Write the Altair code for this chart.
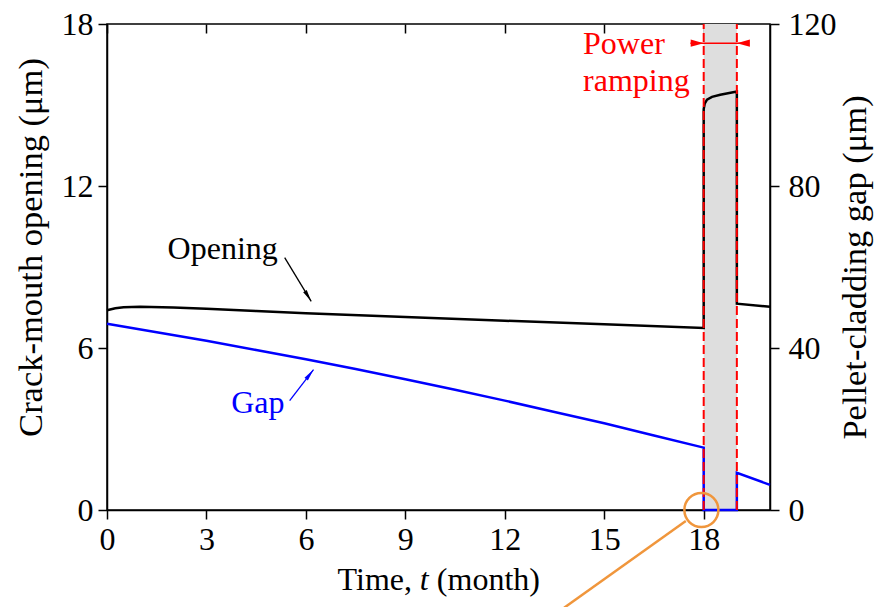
import altair as alt
import pandas as pd

FONT = "Liberation Serif"
FS = 32
FS_YT = 34.5

# ---- data ----
# crack-mouth opening (left axis, um)
open_t = [0, 0.25, 0.5, 1, 2, 3, 4.5, 6, 9, 12, 15, 18, 18, 18.03, 18.1, 18.25, 18.5, 19, 19, 20]
open_v = [7.40, 7.47, 7.51, 7.53, 7.50, 7.45, 7.37, 7.29, 7.15, 7.01, 6.88, 6.74,
          14.85, 15.05, 15.2, 15.3, 15.38, 15.5, 7.64, 7.53]
# pellet-cladding gap (right axis, um)
gap_t = [0, 1.5, 3, 4.5, 6, 7.5, 9, 10.5, 12, 13.5, 15, 16.5, 18, 18, 19, 19, 20]
gap_v = [46.0, 43.9, 41.8, 39.5, 37.2, 34.8, 32.3, 29.7, 27.0, 24.2, 21.4, 18.4, 15.4,
         0, 0, 9.2, 6.2]

x_ticks = [0, 3, 6, 9, 12, 15, 18]
yl_ticks = [0, 6, 12, 18]
yr_ticks = [0, 40, 80, 120]
ramp_start, ramp_end = 18, 19

# annotations (data units: month, left-axis um)
ann_text = ["Opening", "Gap"]
ann_tx = [3.49, 4.55]
ann_ty = [9.28, 3.60]
arrow_x0 = [5.36, 5.51]
arrow_y0 = [9.35, 4.05]
arrow_x1 = [6.16, 6.23]
arrow_y1 = [7.73, 5.20]
arrow_ang = [148.6, 37.7]

ramp_label = "Power\nramping"
ramp_label_x = 14.36
ramp_label_y = 16.89
ramp_arrow_x = [17.6, 19.37]
ramp_arrow_y = 17.29

circle_x, circle_y = 17.93, 0.0
lead_x = [17.46, 13.79]
lead_y = [-0.41, -3.62]

# x-axis title pieces ("Time, " + italic "t" + " (month)")
xt_parts = ["Time,", "t", "(month)"]
xt_x = [9.2, 9.57, 9.95]
xt_y = -2.97

# ---- scales ----
XS = alt.Scale(domain=[0, 20], nice=False, zero=False)
YL = alt.Scale(domain=[0, 18], nice=False, zero=False)
YR = alt.Scale(domain=[0, 120], nice=False, zero=False)

df_open = pd.DataFrame({"t": open_t, "v": open_v, "i": range(len(open_t))})
df_gap = pd.DataFrame({"t": gap_t, "g": gap_v, "i": range(len(gap_t))})
df_shade = pd.DataFrame({"x0": [ramp_start], "x1": [ramp_end], "y0": [0], "y1": [18]})
df_rules = pd.DataFrame({"t": [ramp_start, ramp_end], "y0": [0, 0], "y1": [18, 18]})

shade = alt.Chart(df_shade).mark_rect(color="#dedede").encode(
    x=alt.X("x0:Q", scale=XS,
            axis=alt.Axis(orient="top", values=x_ticks, labels=False, domain=False,
                          ticks=True, tickSize=9, offset=-9, title=None, grid=False)),
    x2="x1:Q",
    y=alt.Y("y0:Q", scale=YL, axis=None),
    y2="y1:Q",
)

opening = alt.Chart(df_open).mark_line(color="black", strokeWidth=2.5).encode(
    x=alt.X("t:Q", scale=XS,
            axis=alt.Axis(values=x_ticks, title=None, labelFlush=False)),
    y=alt.Y("v:Q", scale=YL,
            axis=alt.Axis(values=yl_ticks, title="Crack-mouth opening (μm)",
                          titleFontSize=FS_YT, titlePadding=13, titleY=223)),
    order="i:Q",
)

gap = alt.Chart(df_gap).mark_line(color="#0000ff", strokeWidth=2.5).encode(
    x=alt.X("t:Q", scale=XS, axis=None),
    y=alt.Y("g:Q", scale=YR,
            axis=alt.Axis(orient="right", values=yr_ticks, title="Pellet-cladding gap (μm)",
                          titleAngle=270, titleBaseline="top", titlePadding=2,
                          titleFontSize=FS_YT, labelPadding=9)),
    order="i:Q",
)

rules = alt.Chart(df_rules).mark_rule(color="#ff0000", strokeWidth=2, strokeDash=[9, 4]).encode(
    x=alt.X("t:Q", scale=XS, axis=None),
    y=alt.Y("y0:Q", scale=YL, axis=None),
    y2="y1:Q",
)

df_ramp_shaft = pd.DataFrame({"a": [ramp_arrow_x[0]], "b": [ramp_arrow_x[1]], "y": [ramp_arrow_y]})
ramp_shaft = alt.Chart(df_ramp_shaft).mark_rule(color="#ff0000", strokeWidth=1.5).encode(
    x=alt.X("a:Q", scale=XS, axis=None),
    x2="b:Q",
    y=alt.Y("y:Q", scale=YL, axis=None),
)
df_ramp_heads = pd.DataFrame({"x": [ramp_start, ramp_end], "y": [ramp_arrow_y] * 2, "ang": [90, 270]})
ramp_heads = alt.Chart(df_ramp_heads).mark_point(
    shape="M0,0L-0.55,2L0.55,2Z", filled=True, color="#ff0000", opacity=1, size=169, strokeWidth=0
).encode(
    x=alt.X("x:Q", scale=XS, axis=None),
    y=alt.Y("y:Q", scale=YL, axis=None),
    angle=alt.Angle("ang:Q", scale=None),
)
df_ramp_label = pd.DataFrame({"x": [ramp_label_x], "y": [ramp_label_y], "s": [ramp_label]})
ramp_text = alt.Chart(df_ramp_label).mark_text(
    font=FONT, fontSize=FS, color="#ff0000", align="left", baseline="alphabetic",
    lineBreak="\n", lineHeight=37
).encode(
    x=alt.X("x:Q", scale=XS, axis=None),
    y=alt.Y("y:Q", scale=YL, axis=None),
    text="s:N",
)

df_ann = pd.DataFrame({"x": ann_tx, "y": ann_ty, "s": ann_text, "c": ["black", "#0000ff"]})
ann = alt.Chart(df_ann).mark_text(font=FONT, fontSize=FS, align="center", baseline="alphabetic").encode(
    x=alt.X("x:Q", scale=XS, axis=None),
    y=alt.Y("y:Q", scale=YL, axis=None),
    text="s:N",
    color=alt.Color("c:N", scale=None),
)
df_arrows = pd.DataFrame({"x0": arrow_x0, "y0": arrow_y0, "x1": arrow_x1, "y1": arrow_y1,
                          "ang": arrow_ang, "c": ["black", "#0000ff"]})
shafts = alt.Chart(df_arrows).mark_rule(strokeWidth=1.3).encode(
    x=alt.X("x0:Q", scale=XS, axis=None),
    x2="x1:Q",
    y=alt.Y("y0:Q", scale=YL, axis=None),
    y2="y1:Q",
    color=alt.Color("c:N", scale=None),
)
heads = alt.Chart(df_arrows).mark_point(
    shape="M0,0L-0.35,2L0.35,2Z", filled=True, opacity=1, size=144, strokeWidth=0
).encode(
    x=alt.X("x1:Q", scale=XS, axis=None),
    y=alt.Y("y1:Q", scale=YL, axis=None),
    angle=alt.Angle("ang:Q", scale=None),
    color=alt.Color("c:N", scale=None),
)

df_circle = pd.DataFrame({"x": [circle_x], "y": [circle_y]})
circle = alt.Chart(df_circle).mark_point(
    shape="circle", filled=False, color="#f0963c", size=1156, strokeWidth=2.5, opacity=1
).encode(
    x=alt.X("x:Q", scale=XS, axis=None),
    y=alt.Y("y:Q", scale=YL, axis=None),
)
df_lead = pd.DataFrame({"x0": [lead_x[0]], "x1": [lead_x[1]], "y0": [lead_y[0]], "y1": [lead_y[1]]})
lead = alt.Chart(df_lead).mark_rule(color="#f0963c", strokeWidth=2.5).encode(
    x=alt.X("x0:Q", scale=XS, axis=None),
    x2="x1:Q",
    y=alt.Y("y0:Q", scale=YL, axis=None),
    y2="y1:Q",
)

df_xt = pd.DataFrame({"x": xt_x, "y": [xt_y] * 3, "s": xt_parts,
                      "al": ["right", "center", "left"], "st": ["normal", "italic", "normal"]})
xtitle_layers = []
for i in range(3):
    xtitle_layers.append(
        alt.Chart(df_xt.iloc[[i]]).mark_text(
            font=FONT, fontSize=FS, color="black", baseline="alphabetic",
            align=df_xt["al"][i], fontStyle=df_xt["st"][i]
        ).encode(
            x=alt.X("x:Q", scale=XS, axis=None),
            y=alt.Y("y:Q", scale=YL, axis=None),
            text="s:N",
        )
    )

chart = alt.layer(
    shade, opening, gap, rules, ramp_shaft, ramp_heads, ramp_text, ann, shafts, heads, circle, lead,
    *xtitle_layers
).resolve_scale(y="independent").resolve_axis(x="independent", y="independent").properties(
    width=663, height=486,
    padding={"left": 107, "top": 24, "right": 105, "bottom": 97},
    autosize=alt.AutoSizeParams(type="none"),
    background="white",
).configure_view(
    stroke="black", strokeWidth=1.5
).configure_axis(
    labelFont=FONT, titleFont=FONT, labelFontSize=FS, titleFontSize=FS,
    labelColor="black", titleColor="black", domainColor="black", tickColor="black",
    domainWidth=1.5, tickWidth=1.5, tickSize=9, labelPadding=5, grid=False,
    titleFontWeight="normal",
)

chart.save("out.html", embed_options={"renderer": "svg", "actions": False})
